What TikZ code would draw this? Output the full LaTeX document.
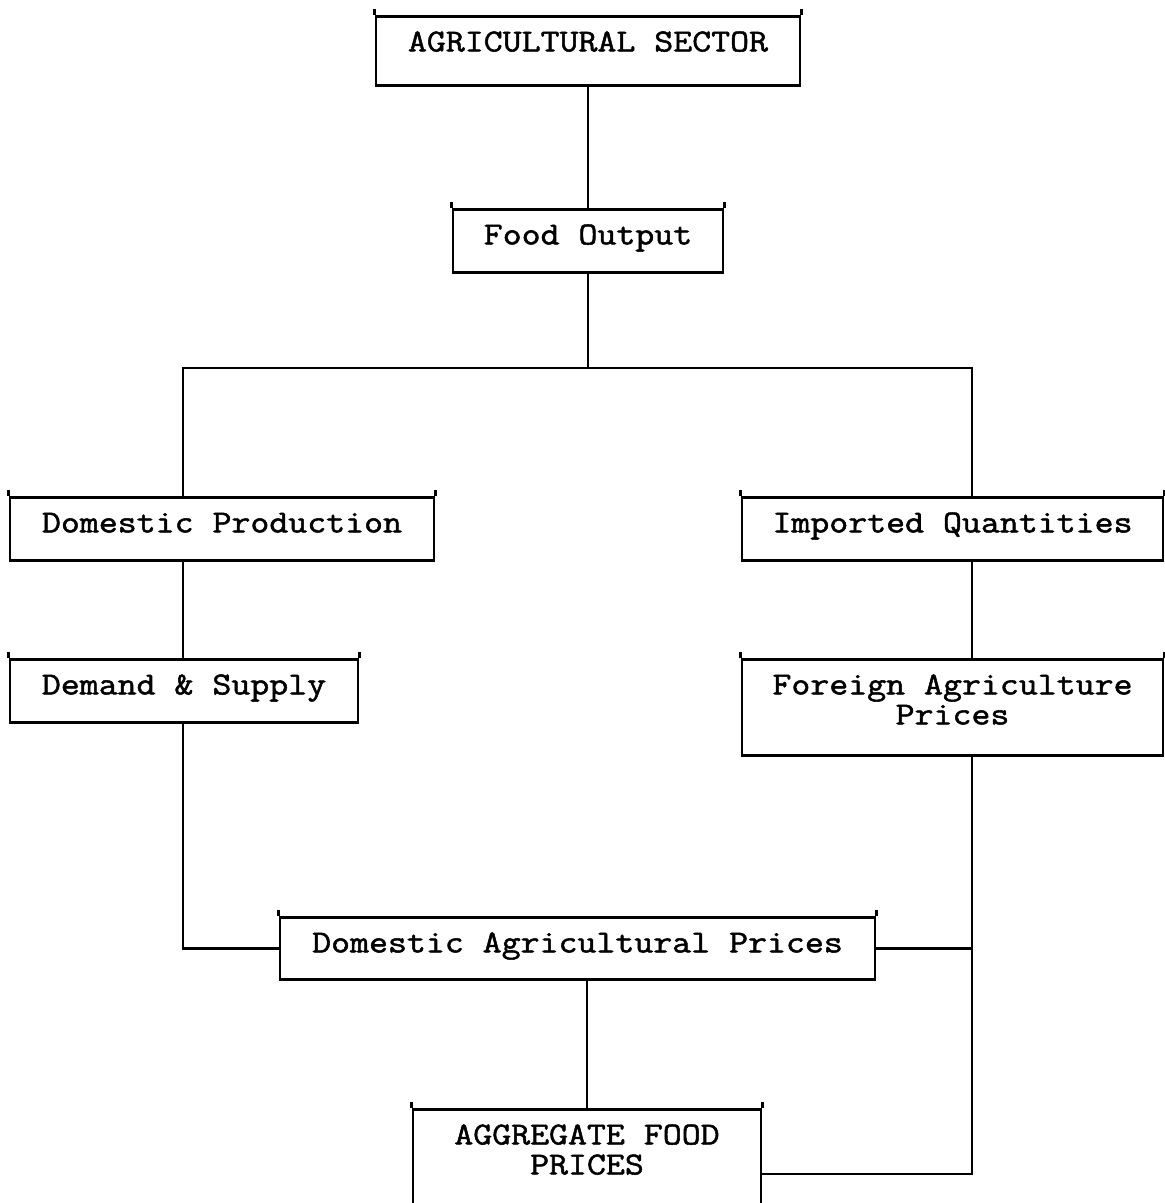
\documentclass[tikz,border=0pt]{standalone}
\usepackage{fontspec}
\newfontfamily\typefont{Latin Modern Mono}[FakeStretch=1.15, FakeBold=1.6]
\usetikzlibrary{positioning, calc}

\begin{document}
\begin{tikzpicture}[x=1pt, y=-1pt,
        box/.style={draw, line width=2.8pt, anchor=north, inner xsep=0pt, inner ysep=0pt,
            minimum width=#1, text height=35pt, text depth=28pt, align=center,
            font=\typefont\fontsize{32pt}{30pt}\selectfont,
            append after command={([yshift=6pt]\tikzlastnode.north west) edge[line width=2.4pt] (\tikzlastnode.north west)
                ([yshift=6pt]\tikzlastnode.north east) edge[line width=2.4pt] (\tikzlastnode.north east)}},
        link/.style={line width=2.6pt}
    ]
    \useasboundingbox (0,0) rectangle (1165,1203);

    \node[box=424pt, text depth=34pt] (sector) at (588, 15) {AGRICULTURAL SECTOR};
    \node[box=270pt] (food) at (588, 208) {Food Output};

    \node[box=424pt] (dom) at (222, 496) {Domestic Production};
    \node[box=421pt] (imp) at (952.5, 496) {Imported Quantities};

    \node[box=348pt] (demand) at (184, 658) {Demand \& Supply};
    \node[box=421pt, text height=65pt, text depth=31pt] (foreign) at (952.5, 658) {Foreign Agriculture\\Prices};

    \node[box=595pt, text depth=27pt] (dap) at (577.5, 916) {Domestic Agricultural Prices};
    \node[box=348pt, text height=65pt, text depth=42pt] (agg) at (587, 1108) {AGGREGATE FOOD\\PRICES};

    \coordinate (splitL) at (183, 368);
    \coordinate (splitR) at (972, 368);
    \coordinate (aggin) at ($(agg.north east)+(0,66)$);

    \draw[link] (sector) -- (food);
    \draw[link] (food.south) -- (food.south |- splitL);
    \draw[link] (splitL |- dom.north) -- (splitL) -- (splitR) -- (splitR |- imp.north);

    \draw[link] (splitL |- dom.south) -- (splitL |- demand.north);
    \draw[link] (splitL |- demand.south) |- (dap.west);

    \draw[link] (splitR |- imp.south) -- (splitR |- foreign.north);
    \draw[link] (splitR |- foreign.south) |- (aggin);
    \draw[link] (dap.east) -- (splitR |- dap.east);

    \draw[link] (dap.south -| agg.north) -- (agg.north);

\end{tikzpicture}
\end{document}
